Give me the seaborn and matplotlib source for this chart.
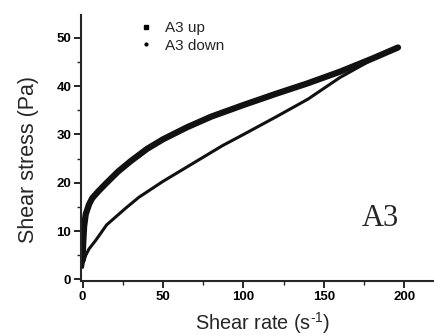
import matplotlib
matplotlib.use("Agg")
import matplotlib.pyplot as plt
import seaborn as sns
import pandas as pd
from matplotlib.lines import Line2D
from matplotlib.ticker import MultipleLocator

sns.set_theme(style="ticks")
plt.rcParams['font.family'] = ['Liberation Sans', 'DejaVu Sans']
plt.rcParams['mathtext.fontset'] = 'custom'
plt.rcParams['mathtext.rm'] = 'Liberation Sans'

up_rate = [0, 0.5, 1, 2, 4, 6, 10, 15, 22, 30, 40, 50, 65, 80, 100, 120, 140, 160, 180, 196]
up_stress = [4, 8, 11, 13.5, 15.5, 16.8, 18.3, 20, 22.3, 24.5, 27, 29, 31.5, 33.7, 36.1, 38.4, 40.6, 43, 45.7, 48]

down_rate = [196, 180, 160, 140, 120, 100, 87, 70, 50, 35, 27, 15, 8, 4, 2, 0.5, 0]
down_stress = [48, 45.5, 41.8, 37.3, 33.6, 30, 27.7, 24.3, 20.3, 17, 14.8, 11.3, 8, 6.3, 5, 3.5, 2.5]

x_ticks = [0, 50, 100, 150, 200]
y_ticks = [0, 10, 20, 30, 40, 50]

up = pd.DataFrame({"rate": up_rate, "stress": up_stress})
down = pd.DataFrame({"rate": down_rate, "stress": down_stress})

fig = plt.figure(figsize=(4.35, 3.36), dpi=100)
ax = fig.add_axes([0.186, 0.164, 0.814, 0.791])

sns.lineplot(data=up, x="rate", y="stress", sort=False, color="#111111", linewidth=4.5, ax=ax)
sns.lineplot(data=down, x="rate", y="stress", sort=False, color="#111111", linewidth=2.2, ax=ax)

ax.set_xlim(-1, 219)
ax.set_ylim(-0.3, 54.7)
ax.set_xticks(x_ticks)
ax.set_yticks(y_ticks)
ax.xaxis.set_minor_locator(MultipleLocator(25))
ax.yaxis.set_minor_locator(MultipleLocator(5))
ax.tick_params(axis="both", which="major", direction="out", length=5, width=1.2, labelsize=9.5, colors="black", pad=2)
ax.tick_params(axis="both", which="minor", direction="out", length=3, width=1)
for lab in ax.get_xticklabels() + ax.get_yticklabels():
    lab.set_fontweight("bold")

sns.despine(ax=ax)
ax.spines["left"].set_linewidth(1.5)
ax.spines["bottom"].set_linewidth(1.5)

ax.set_xlabel("Shear rate (s$\\mathregular{^{\\text{-}1}}$)", fontsize=14.3)
ax.set_ylabel("Shear stress (Pa)", fontsize=15.5)
ax.xaxis.set_label_coords(0.514, -0.157)
ax.yaxis.set_label_coords(-0.147, 0.457)
ax.xaxis.label.set_va("center")
ax.yaxis.label.set_va("center")

ax.text(185, 11, "A3", fontsize=22, family="Liberation Serif", ha="center", va="baseline")

handles = [
    Line2D([], [], linestyle="none", marker="s", markersize=3.5, color="black"),
    Line2D([], [], linestyle="none", marker="o", markersize=2, color="black"),
]
ax.legend(handles, ["A3 up", "A3 down"], loc="upper left", bbox_to_anchor=(0.12, 1.03),
          frameon=False, fontsize=11, handlelength=1.2, handletextpad=0.6, labelspacing=0.25)

fig.savefig("out.png", dpi=100)
